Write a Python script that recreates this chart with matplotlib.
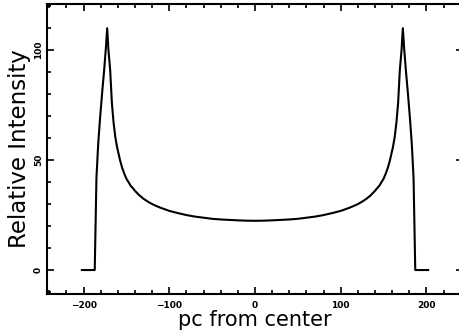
import matplotlib
matplotlib.use("Agg")
import matplotlib.pyplot as plt
from matplotlib.ticker import MultipleLocator

# intensity profile (pc from center, relative intensity)
pc = [-202, -187, -185, -183, -181, -178.5, -176, -174, -172.5,
      -171, -169, -167, -165, -163, -161, -157.5, -155, -152.5, -150,
      -147, -145, -142, -140, -135, -130, -125, -120, -115, -110, -105,
      -100, -90, -80, -70, -60, -50, -40, -30, -20, -10, 0,
      10, 20, 30, 40, 50, 60, 70, 80, 90, 100,
      105, 110, 115, 120, 125, 130, 135, 140, 142, 145, 147,
      150, 152.5, 155, 157.5, 161, 163, 165, 167, 169, 171,
      172.5, 174, 176, 178.5, 181, 183, 185, 187, 202]
intensity = [0, 0, 42, 57, 68, 80, 91, 101, 110,
             100, 91, 76, 67, 60.5, 56, 50, 46.5, 43.8, 41.5,
             39.6, 38.3, 37, 36, 34, 32.4, 31.1, 30, 29.1, 28.3, 27.6,
             26.9, 25.9, 25, 24.3, 23.8, 23.3, 23, 22.8, 22.6, 22.45, 22.4,
             22.45, 22.6, 22.8, 23, 23.3, 23.8, 24.3, 25, 25.9, 26.9,
             27.6, 28.3, 29.1, 30, 31.1, 32.4, 34, 36, 37, 38.3, 39.6,
             41.5, 43.8, 46.5, 50, 56, 60.5, 67, 76, 91, 100,
             110, 101, 91, 80, 68, 57, 42, 0, 0]

x_ticks = [-200, -100, 0, 100, 200]
y_ticks = [0, 50, 100]

fig = plt.figure(figsize=(4.59, 3.35), dpi=100)
ax = fig.add_axes([47 / 459, 41 / 335, (463 - 47) / 459, (331 - 41) / 335])

ax.plot(pc, intensity, color='black', linewidth=1.5)

ax.set_xlim(-242.7, 242.7)
ax.set_ylim(-10.9, 121)

ax.set_xticks(x_ticks)
ax.set_yticks(y_ticks)
ax.xaxis.set_minor_locator(MultipleLocator(20))
ax.yaxis.set_minor_locator(MultipleLocator(10))
ax.tick_params(which='both', direction='in', top=True, right=True, width=1.2,
               labelsize=6.5)
ax.tick_params(axis='x', pad=5)
ax.tick_params(axis='y', pad=3)
ax.tick_params(which='major', length=5)
ax.tick_params(which='minor', length=3)
for lab in ax.get_xticklabels() + ax.get_yticklabels():
    lab.set_fontweight('bold')
for lab in ax.get_yticklabels():
    lab.set_rotation(90)
    lab.set_va('center')

for s in ax.spines.values():
    s.set_linewidth(1.5)

ax.set_xlabel('pc from center', fontsize=15, labelpad=0)
ax.set_ylabel('Relative Intensity', fontsize=16.5, labelpad=2)

fig.savefig('out.png', dpi=100)
